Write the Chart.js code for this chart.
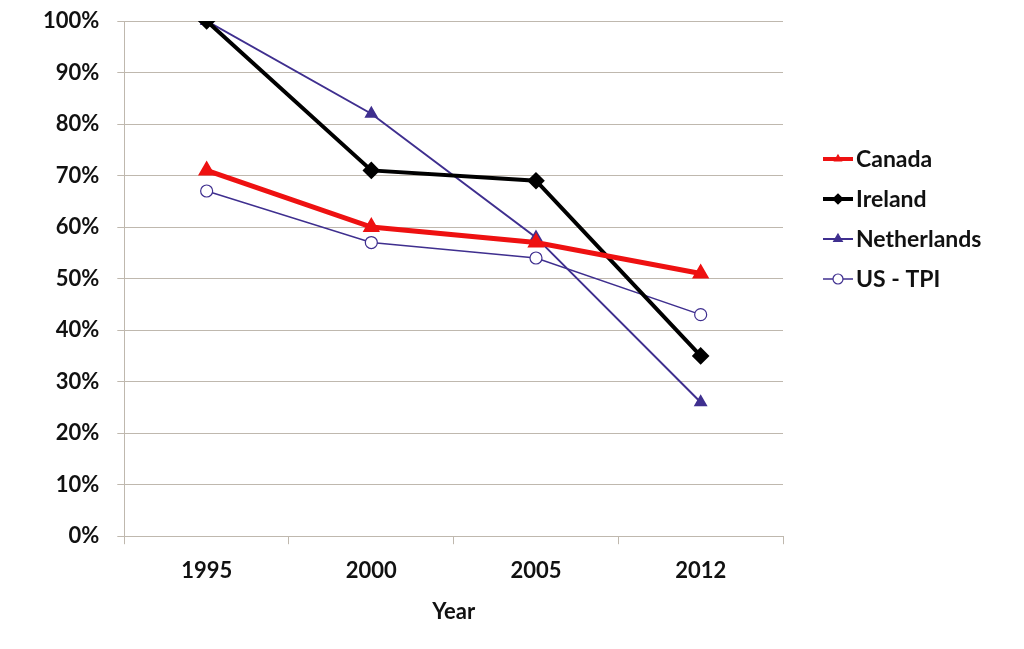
<!DOCTYPE html>
<html>
<head>
<meta charset="utf-8">
<script src="https://cdn.jsdelivr.net/npm/chart.js@4/dist/chart.umd.min.js"></script>
<style>
  html, body { margin: 0; padding: 0; background: #fff; }
  #wrap { width: 1024px; height: 649px; }
</style>
</head>
<body>
<div id="wrap"><canvas id="yearChart"></canvas></div>
<script>
// Data
const years = ["1995", "2000", "2005", "2012"];
const canada = [71, 60, 57, 51];
const ireland = [100, 71, 69, 35];
const netherlands = [100, 82, 58, 26];
const usTpi = [67, 57, 54, 43];

const FONT = "Lato, 'Open Sans', sans-serif";
const PURPLE = "#3f2f8f";

// Legend drawn by hand: line with marker + label
const lineLegend = {
    id: "lineLegend",
    afterDraw(chart) {
        const ctx = chart.ctx;
        const x0 = 823, x1 = 853, textX = 856;
        let y = 159;
        chart.data.datasets.forEach(ds => {
            ctx.save();
            ctx.strokeStyle = ds.borderColor;
            ctx.lineWidth = Math.min(ds.borderWidth, 4);
            ctx.beginPath();
            ctx.moveTo(x0, y);
            ctx.lineTo(x1, y);
            ctx.stroke();
            ctx.fillStyle = ds.pointBackgroundColor;
            ctx.strokeStyle = ds.pointBorderColor;
            ctx.lineWidth = 1.2;
            Chart.helpers.drawPoint(ctx, {
                pointStyle: ds.pointStyle,
                rotation: 0,
                radius: ds.pointRadius - 1,
                borderWidth: 1.2
            }, (x0 + x1) / 2, y);
            ctx.fillStyle = "#111";
            ctx.font = "bold 23px " + FONT;
            ctx.textBaseline = "middle";
            ctx.fillText(ds.label, textX, y + 1);
            ctx.restore();
            y += 40;
        });
    }
};

document.addEventListener("DOMContentLoaded", function () {
    const ctx = document.getElementById("yearChart").getContext("2d");

    new Chart(ctx, {
        type: "line",
        data: {
            labels: years,
            datasets: [
                {
                    label: "Canada",
                    data: canada,
                    borderColor: "#ee1111",
                    pointBackgroundColor: "#ee1111",
                    pointBorderColor: "#ee1111",
                    borderWidth: 5,
                    pointStyle: "triangle",
                    pointRadius: 5
                },
                {
                    label: "Ireland",
                    data: ireland,
                    borderColor: "#000000",
                    pointBackgroundColor: "#000000",
                    pointBorderColor: "#000000",
                    borderWidth: 4,
                    pointStyle: "rectRot",
                    pointRadius: 6
                },
                {
                    label: "Netherlands",
                    data: netherlands,
                    borderColor: PURPLE,
                    pointBackgroundColor: PURPLE,
                    pointBorderColor: PURPLE,
                    borderWidth: 2,
                    pointStyle: "triangle",
                    pointRadius: 6
                },
                {
                    label: "US - TPI",
                    data: usTpi,
                    borderColor: PURPLE,
                    pointBackgroundColor: "#ffffff",
                    pointBorderColor: PURPLE,
                    borderWidth: 1.5,
                    pointBorderWidth: 1.2,
                    pointStyle: "circle",
                    pointRadius: 6
                }
            ]
        },
        options: {
            responsive: true,
            maintainAspectRatio: false,
            animation: false,
            layout: {
                autoPadding: false,
                padding: { top: 21, right: 241, bottom: 20, left: 25 }
            },
            elements: {
                line: { tension: 0 }
            },
            scales: {
                x: {
                    offset: true,
                    grid: {
                        offset: true,
                        drawOnChartArea: false,
                        drawTicks: true,
                        tickLength: 8,
                        color: "#bfb8ae"
                    },
                    border: { color: "#bfb8ae" },
                    ticks: {
                        color: "#111",
                        padding: 14,
                        font: { family: FONT, size: 22, weight: "bold" }
                    },
                    title: {
                        display: true,
                        text: "Year",
                        color: "#111",
                        padding: { top: 0 },
                        font: { family: FONT, size: 22, weight: "bold" }
                    }
                },
                y: {
                    min: 0,
                    max: 100,
                    afterFit(scale) {
                        scale.paddingTop = 0;
                        scale.paddingBottom = 0;
                    },
                    grid: {
                        color: "#bfb8ae",
                        tickLength: 7
                    },
                    border: { color: "#bfb8ae" },
                    ticks: {
                        stepSize: 10,
                        color: "#111",
                        padding: 18,
                        font: { family: FONT, size: 22, weight: "bold" },
                        callback: v => v + "%"
                    }
                }
            },
            plugins: {
                legend: { display: false },
                tooltip: { enabled: false }
            }
        },
        plugins: [lineLegend]
    });
});
</script>
</body>
</html>
